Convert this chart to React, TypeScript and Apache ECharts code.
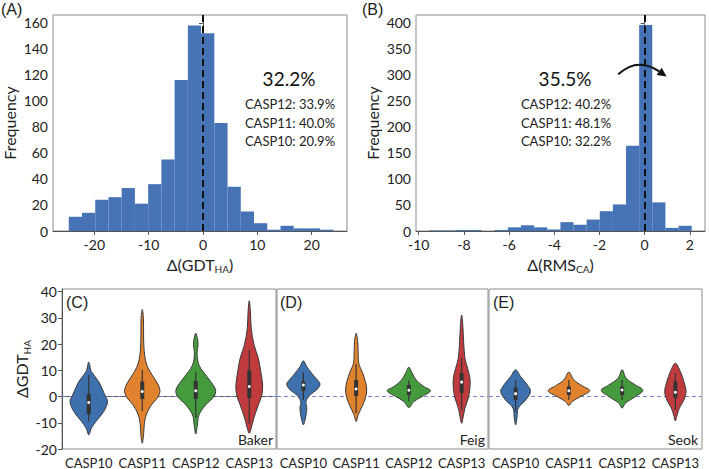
import React, { useEffect, useRef } from 'react';
import * as echarts from 'echarts';

const FONT = 'Lato, "Open Sans", sans-serif';
const TITLE_FONT = '"Liberation Sans", Arial, sans-serif';
const HIST_COLOR = '#4672b6';
const VIOLIN_COLORS = ['#3d70ad', '#e1822e', '#449a3c', '#c03b3d'];

// ---- Panel A: Δ(GDT_HA) histogram ----
const gdtRange = [-24.7, 24.0];
const gdtCounts = [11, 14, 24, 26, 33, 21, 36, 55, 116, 158, 152, 83, 34, 15, 6, 1, 4, 2, 2, 1];
const gdtXTicks = [-20, -10, 0, 10, 20];
const gdtYTicks = [0, 20, 40, 60, 80, 100, 120, 140, 160];
const gdtSummary = ['32.2%', 'CASP12: 33.9%', 'CASP11: 40.0%', 'CASP10: 20.9%'];

// ---- Panel B: Δ(RMS_CA) histogram ----
const rmsRange = [-9.54, 2.08];
const rmsCounts = [1, 1, 2, 2, 0, 2, 7, 11, 7, 3, 17, 12, 22, 38, 51, 164, 396, 55, 6, 10];
const rmsXTicks = [-10, -8, -6, -4, -2, 0, 2];
const rmsYTicks = [0, 50, 100, 150, 200, 250, 300, 350, 400];
const rmsSummary = ['35.5%', 'CASP12: 40.2%', 'CASP11: 48.1%', 'CASP10: 32.2%'];
const rmsArrow = [[-1.17, 301], [-0.21, 317], [0.97, 297]]; // start, peak, tip

// ---- Panels C-E: violins ----
const caspCategories = ['CASP10', 'CASP11', 'CASP12', 'CASP13'];
const violinYTicks = [-20, -10, 0, 10, 20, 30, 40];
const groupNames = ['Baker', 'Feig', 'Seok'];
const panelTags = ['(C)', '(D)', '(E)'];

// profiles: [value, half width as fraction of category band], bottom to top
const bakerProfiles = [
  [[-14.6, 0], [-12, 0.05], [-9.5, 0.135], [-5.7, 0.28], [-1.9, 0.35], [0.6, 0.3], [5.7, 0.185], [9.5, 0.05], [13.1, 0]],
  [[-17.8, 0], [-14.6, 0.025], [-10.8, 0.037], [-7, 0.074], [-3.2, 0.17], [-0.6, 0.28], [1.9, 0.33], [4.4, 0.3], [8.2, 0.185], [12, 0.086], [17.1, 0.037], [23.5, 0.025], [29.8, 0.022], [33.2, 0]],
  [[-14.3, 0], [-10.8, 0.03], [-7, 0.06], [-3.2, 0.185], [0, 0.34], [2.5, 0.37], [5.7, 0.28], [9.5, 0.135], [12, 0.06], [14.6, 0.03], [17.1, 0.025], [19.7, 0.043], [22.2, 0.03], [24.1, 0]],
  [[-14, 0], [-12, 0.037], [-8.2, 0.086], [-3.2, 0.17], [0.6, 0.235], [4.4, 0.25], [9.5, 0.215], [14.6, 0.17], [19.7, 0.09], [26, 0.037], [32.4, 0.022], [36.5, 0]],
];
// boxes: [whisker low, q1, median, q3, whisker high]
const bakerBoxes = [
  [-9.5, -6.7, -2.3, 1.0, 8.2],
  [-5.5, -0.9, 1.9, 5.7, 10.2],
  [-8.2, -0.9, 2.2, 6.0, 9.3],
  [-10.5, -0.6, 3.8, 10.0, 17.8],
];
const feigProfiles = [
  [[-10.8, 0], [-9.5, 0.025], [-7, 0.05], [-4.4, 0.065], [-1.9, 0.05], [0.6, 0.125], [2.5, 0.25], [4.7, 0.315], [6.3, 0.265], [8.9, 0.157], [11.4, 0.063], [13.6, 0]],
  [[-9.5, 0], [-7, 0.038], [-3.8, 0.113], [-0.6, 0.176], [2.5, 0.2], [5.7, 0.176], [9.5, 0.113], [12.7, 0.05], [17.1, 0.038], [20.9, 0.031], [24.1, 0]],
  [[-4.2, 0], [-1.9, 0.094], [0, 0.25], [2.2, 0.41], [3.8, 0.283], [6.3, 0.138], [8.9, 0.063], [11.2, 0]],
  [[-10.2, 0], [-8.2, 0.025], [-4.4, 0.063], [-0.6, 0.126], [3.2, 0.157], [7, 0.157], [10.8, 0.113], [14.6, 0.063], [20.9, 0.038], [27.3, 0.022], [31.1, 0]],
];
const feigBoxes = [
  [-1.3, 2.2, 4.4, 5.7, 9.3],
  [-6.3, 0.25, 2.9, 6.3, 12.3],
  [-1.9, 0.6, 2.4, 4.4, 6.1],
  [-5.1, 1.3, 5.5, 8.9, 14.6],
];
const seokProfiles = [
  [[-10.8, 0], [-8.2, 0.025], [-4.4, 0.05], [-1.3, 0.19], [1.9, 0.28], [4.4, 0.22], [7.6, 0.094], [10.2, 0]],
  [[-3.4, 0], [-1.9, 0.063], [0, 0.22], [2.2, 0.39], [4.1, 0.25], [6.3, 0.094], [9.3, 0]],
  [[-4.4, 0], [-2.5, 0.063], [0, 0.25], [2.4, 0.39], [4.4, 0.25], [7, 0.075], [10.2, 0]],
  [[-9.3, 0], [-7.6, 0.025], [-4.4, 0.075], [-1.3, 0.16], [1.9, 0.2], [5.7, 0.16], [9.5, 0.094], [12.7, 0]],
];
const seokBoxes = [
  [-5.7, -1.3, 1.1, 3.4, 6.3],
  [-1.3, 0.6, 2.2, 3.8, 6.3],
  [-1.3, 0.6, 2.5, 3.8, 6.3],
  [-5.1, -0.6, 1.6, 5.7, 8.9],
];

const panelProfiles = [bakerProfiles, feigProfiles, seokProfiles];
const panelBoxes = [bakerBoxes, feigBoxes, seokBoxes];

function histData(range: number[], counts: number[]) {
  const n = counts.length;
  const w = (range[1] - range[0]) / n;
  return counts.map((c, i) => [range[0] + i * w, range[0] + (i + 1) * w, c]);
}

const histRender = (params: any, api: any) => {
  const p0 = api.coord([api.value(0), api.value(2)]);
  const p1 = api.coord([api.value(1), 0]);
  return {
    type: 'rect',
    shape: { x: p0[0], y: p0[1], width: p1[0] - p0[0], height: p1[1] - p0[1] },
    style: { fill: HIST_COLOR },
  };
};

const violinRender = (profiles: number[][][], boxes: number[][]) => (params: any, api: any) => {
  const i = params.dataIndex;
  const prof = profiles[i];
  const bw = api.size([1, 0])[0];
  const cx = api.coord([i, 0])[0];
  const y = (v: number) => api.coord([i, v])[1];
  const right = prof.map(([v, h]) => [cx + h * bw, y(v)]);
  const left = prof.slice(1, -1).reverse().map(([v, h]) => [cx - h * bw, y(v)]);
  const [wlo, q1, med, q3, whi] = boxes[i];
  return {
    type: 'group',
    children: [
      { type: 'polygon', shape: { points: [...right, ...left], smooth: 0.35 }, style: { fill: VIOLIN_COLORS[i], stroke: '#3a3a3a', lineWidth: 1 } },
      { type: 'line', shape: { x1: cx, y1: y(wlo), x2: cx, y2: y(whi) }, style: { stroke: '#333', lineWidth: 1.2 } },
      { type: 'line', shape: { x1: cx, y1: y(q1), x2: cx, y2: y(q3) }, style: { stroke: '#333', lineWidth: 4 } },
      { type: 'circle', shape: { cx, cy: y(med), r: 1.5 }, style: { fill: '#fff' } },
    ],
  };
};

const arrowRender = (params: any, api: any) => {
  const p0 = api.coord(rmsArrow[0]);
  const pk = api.coord(rmsArrow[1]);
  const p2 = api.coord(rmsArrow[2]);
  const cpx = 2 * pk[0] - (p0[0] + p2[0]) / 2;
  const cpy = 2 * pk[1] - (p0[1] + p2[1]) / 2;
  const dx = p2[0] - cpx, dy = p2[1] - cpy;
  const L = Math.hypot(dx, dy);
  const ux = dx / L, uy = dy / L;
  const head = 9, hw = 4.5;
  const bx = p2[0] - ux * head, by = p2[1] - uy * head;
  return {
    type: 'group',
    children: [
      { type: 'bezierCurve', shape: { x1: p0[0], y1: p0[1], cpx1: cpx, cpy1: cpy, x2: bx, y2: by }, style: { stroke: '#111', lineWidth: 2, fill: 'none' } },
      { type: 'polygon', shape: { points: [[p2[0], p2[1]], [bx - uy * hw, by + ux * hw], [bx + uy * hw, by - ux * hw]] }, style: { fill: '#111' } },
    ],
  };
};

const axisLineStyle = { color: '#555', width: 1 };
const tickLabel = { fontFamily: FONT, fontSize: 14, color: '#222' };
const nameRich = {
  m: { fontFamily: FONT, fontSize: 16, color: '#222', lineHeight: 20 },
  s: { fontFamily: FONT, fontSize: 10, color: '#222', lineHeight: 12, verticalAlign: 'bottom' },
};

export default function App() {
  const ref = useRef<HTMLDivElement>(null);
  useEffect(() => {
    if (!ref.current) return;
    const chart = echarts.init(ref.current, null, { renderer: 'svg' });

    const grids = [
      { left: 53, top: 15, width: 294, height: 216 },
      { left: 416, top: 15, width: 289, height: 216 },
      { left: 62, top: 289, width: 214, height: 160 },
      { left: 277, top: 289, width: 211, height: 160 },
      { left: 489, top: 289, width: 213, height: 160 },
    ].map((g) => ({ ...g, show: true, borderColor: '#8c8c8c', borderWidth: 1, backgroundColor: 'transparent' }));

    const xAxis: any[] = [
      {
        gridIndex: 0, type: 'value', min: -27.6, max: 26.5,
        axisLine: { lineStyle: axisLineStyle }, splitLine: { show: false },
        axisTick: { customValues: gdtXTicks, length: 4, lineStyle: axisLineStyle },
        axisLabel: { ...tickLabel, customValues: gdtXTicks, margin: 6 },
        name: '{m|Δ(GDT}{s|HA}{m|)}', nameLocation: 'middle', nameGap: 23,
        nameTextStyle: { rich: nameRich },
      },
      {
        gridIndex: 1, type: 'value', min: -10.12, max: 2.67,
        axisLine: { lineStyle: axisLineStyle }, splitLine: { show: false },
        axisTick: { customValues: rmsXTicks, length: 4, lineStyle: axisLineStyle },
        axisLabel: { ...tickLabel, customValues: rmsXTicks, margin: 6 },
        name: '{m|Δ(RMS}{s|CA}{m|)}', nameLocation: 'middle', nameGap: 23,
        nameTextStyle: { rich: nameRich },
      },
    ];
    const yAxis: any[] = [
      {
        gridIndex: 0, type: 'value', min: 0, max: 166,
        axisLine: { show: true, lineStyle: axisLineStyle }, splitLine: { show: false },
        axisTick: { show: true, customValues: gdtYTicks, length: 4, lineStyle: axisLineStyle },
        axisLabel: { ...tickLabel, customValues: gdtYTicks, margin: 5 },
        name: 'Frequency', nameLocation: 'middle', nameGap: 36,
        nameTextStyle: { fontFamily: FONT, fontSize: 16, color: '#222' },
      },
      {
        gridIndex: 1, type: 'value', min: 0, max: 415,
        axisLine: { show: true, lineStyle: axisLineStyle }, splitLine: { show: false },
        axisTick: { show: true, customValues: rmsYTicks, length: 4, lineStyle: axisLineStyle },
        axisLabel: { ...tickLabel, customValues: rmsYTicks, margin: 5 },
        name: 'Frequency', nameLocation: 'middle', nameGap: 36,
        nameTextStyle: { fontFamily: FONT, fontSize: 16, color: '#222' },
      },
    ];
    [2, 3, 4].forEach((g, k) => {
      xAxis.push({
        gridIndex: g, type: 'category', data: caspCategories,
        axisLine: { show: k === 0, lineStyle: axisLineStyle },
        axisTick: { show: true, alignWithLabel: true, length: 4, lineStyle: axisLineStyle },
        axisLabel: { ...tickLabel, fontSize: 13, margin: 7, interval: 0 },
        splitLine: { show: false },
      });
      yAxis.push({
        gridIndex: g, type: 'value', min: -20, max: 41,
        axisLine: { show: k === 0, lineStyle: axisLineStyle }, splitLine: { show: false },
        axisTick: { show: k === 0, customValues: violinYTicks, length: 4, lineStyle: axisLineStyle },
        axisLabel: { show: k === 0, ...tickLabel, customValues: violinYTicks, margin: 5 },
        ...(k === 0
          ? { name: '{m|ΔGDT}{s|HA}', nameLocation: 'middle', nameGap: 28, nameTextStyle: { rich: nameRich } }
          : {}),
      });
    });

    const dashedVertical = {
      silent: true, symbol: ['none', 'none'], label: { show: false },
      lineStyle: { type: [7, 4], color: '#111', width: 2 },
      data: [{ xAxis: 0 }],
    };

    const series: any[] = [
      {
        type: 'custom', xAxisIndex: 0, yAxisIndex: 0, renderItem: histRender,
        data: histData(gdtRange, gdtCounts), encode: { x: [0, 1], y: 2 }, markLine: dashedVertical, z: 2,
      },
      {
        type: 'custom', xAxisIndex: 1, yAxisIndex: 1, renderItem: histRender,
        data: histData(rmsRange, rmsCounts), encode: { x: [0, 1], y: 2 }, markLine: dashedVertical, z: 2,
      },
      {
        type: 'custom', xAxisIndex: 1, yAxisIndex: 1, renderItem: arrowRender,
        data: [rmsArrow[1]], encode: { x: 0, y: 1 }, clip: false, z: 6,
      },
    ];
    [0, 1, 2].forEach((k) => {
      series.push({
        type: 'line', xAxisIndex: 2 + k, yAxisIndex: 2 + k, data: [], z: 1,
        markLine: {
          z: 1,
          silent: true, symbol: ['none', 'none'], label: { show: false },
          lineStyle: { type: [4, 3], color: '#7283d8', width: 1 },
          data: [{ yAxis: 0 }],
        },
      });
      series.push({
        type: 'custom', xAxisIndex: 2 + k, yAxisIndex: 2 + k, z: 3,
        renderItem: violinRender(panelProfiles[k], panelBoxes[k]),
        data: caspCategories.map((c, i) => [i, ...panelBoxes[k][i]]),
        encode: { x: 0, y: [1, 2, 3, 4, 5] },
      });
    });

    const graphic: any[] = [];
    const tag = (text: string, x: number, y: number) =>
      graphic.push({ type: 'text', x, y, style: { text, fontFamily: TITLE_FONT, fontSize: 16, fill: '#222' } });
    tag('(A)', 1, 1);
    tag('(B)', 362, 1);
    tag(panelTags[0], 66, 294);
    tag(panelTags[1], 280, 294);
    tag(panelTags[2], 493, 294);

    const summary = (lines: string[], cx: number) => {
      graphic.push({ type: 'text', x: cx, y: 78, style: { text: lines[0], fontFamily: FONT, fontSize: 19, fill: '#111', align: 'center', verticalAlign: 'middle' } });
      lines.slice(1).forEach((t, j) =>
        graphic.push({ type: 'text', x: cx + 1, y: 104 + j * 18.5, style: { text: t, fontFamily: FONT, fontSize: 13, fill: '#222', align: 'center', verticalAlign: 'middle' } })
      );
    };
    summary(gdtSummary, 289);
    summary(rmsSummary, 565);

    const rightEdges = [273, 485, 698];
    groupNames.forEach((n, k) =>
      graphic.push({ type: 'text', x: rightEdges[k], y: 439, style: { text: n, fontFamily: FONT, fontSize: 14, fill: '#222', align: 'right', verticalAlign: 'middle' } })
    );

    chart.setOption({
      animation: false,
      backgroundColor: '#fff',
      grid: grids,
      xAxis,
      yAxis,
      series,
      graphic,
    });
    return () => chart.dispose();
  }, []);
  return <div ref={ref} style={{ position: 'fixed', left: 0, top: 0, width: 709, height: 469 }} />;
}
